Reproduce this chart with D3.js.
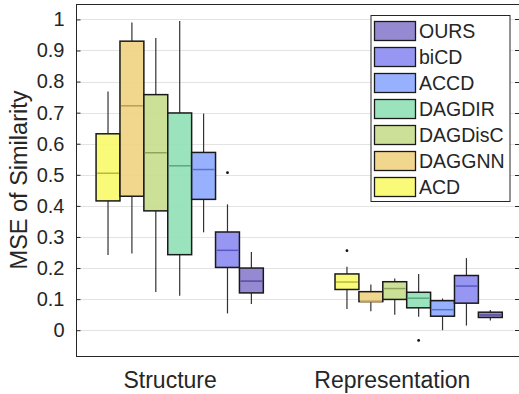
<!DOCTYPE html>
<html>
<head>
<meta charset="utf-8">
<script src="https://cdn.jsdelivr.net/npm/d3@7"></script>
<style>
  body { margin: 0; background: #fff; }
  text { font-family: "Liberation Sans", Arial, sans-serif; fill: #262626; }
</style>
</head>
<body>
<div id="main"></div>
<script>
// categories and methods
var categories = ["Structure", "Representation"];
var methods = ["ACD", "DAGGNN", "DAGDisC", "DAGDIR", "ACCD", "biCD", "OURS"];
var fills = ["#fafa6a", "#f0d282", "#c8dd8c", "#90e0b5", "#8ca8ff", "#8c8cf2", "#8a7ccc"];
var medianColors = ["#b8b840", "#c09c50", "#8fa65a", "#5aa882", "#5a74cc", "#5858c0", "#5a4aa0"];

// Structure stats (per method)
var structLow = [0.242, 0.247, 0.123, 0.111, 0.315, 0.054, 0.084];
var structQ1 = [0.416, 0.431, 0.384, 0.243, 0.421, 0.202, 0.120];
var structMed = [0.505, 0.722, 0.571, 0.529, 0.517, 0.257, 0.158];
var structQ3 = [0.632, 0.930, 0.758, 0.699, 0.572, 0.316, 0.200];
var structHigh = [0.768, 0.990, 0.940, 0.995, 0.697, 0.405, 0.252];
var structOut = [[], [], [], [], [], [0.507], []];

// Representation stats (per method)
var reprLow = [0.068, 0.061, 0.050, 0.043, 0.000, 0.015, 0.031];
var reprQ1 = [0.131, 0.092, 0.099, 0.072, 0.045, 0.087, 0.041];
var reprMed = [0.155, 0.092, 0.134, 0.103, 0.066, 0.142, 0.049];
var reprQ3 = [0.181, 0.124, 0.156, 0.122, 0.095, 0.176, 0.058];
var reprHigh = [0.204, 0.147, 0.166, 0.181, 0.102, 0.232, 0.065];
var reprOut = [[0.256], [], [], [-0.033], [], [], []];

var yTicks = [0, 0.1, 0.2, 0.3, 0.4, 0.5, 0.6, 0.7, 0.8, 0.9, 1];

var W = 519, H = 394;
var plot = {left: 76, right: 519, top: 4.5, bottom: 356};

var svg = d3.select("#main")
  .append("svg")
    .attr("width", W)
    .attr("height", H);

var y = d3.scaleLinear()
  .domain([-0.083, 1.048])
  .range([plot.bottom, plot.top]);

// x in box-slot units; second group starts at slot 10
var x = d3.scaleLinear()
  .domain([-0.84, 17.7])
  .range([plot.left, plot.right]);
var bw = x(1) - x(0);

// grid
svg.append("g")
  .selectAll("line")
  .data(yTicks)
  .enter()
  .append("line")
    .attr("x1", plot.left).attr("x2", plot.right)
    .attr("y1", function(d) { return Math.round(y(d)) + 0.5; })
    .attr("y2", function(d) { return Math.round(y(d)) + 0.5; })
    .attr("stroke", "#e3e3e3")
    .attr("stroke-width", 1);

// build box data
var groups = [
  {low: structLow, q1: structQ1, med: structMed, q3: structQ3, high: structHigh, out: structOut},
  {low: reprLow, q1: reprQ1, med: reprMed, q3: reprQ3, high: reprHigh, out: reprOut}
];
var boxes = [];
groups.forEach(function(g, gi) {
  methods.forEach(function(m, mi) {
    boxes.push({
      slot: gi * 10 + mi, mi: mi,
      low: g.low[mi], q1: g.q1[mi], med: g.med[mi], q3: g.q3[mi], high: g.high[mi],
      out: g.out[mi]
    });
  });
});

var bx = svg.append("g")
  .selectAll("g")
  .data(boxes)
  .enter()
  .append("g");

// whiskers
bx.append("line")
  .attr("x1", function(d) { return x(d.slot + 0.5); })
  .attr("x2", function(d) { return x(d.slot + 0.5); })
  .attr("y1", function(d) { return y(d.high); })
  .attr("y2", function(d) { return y(d.q3); })
  .attr("stroke", "#333").attr("stroke-width", 1.2);
bx.append("line")
  .attr("x1", function(d) { return x(d.slot + 0.5); })
  .attr("x2", function(d) { return x(d.slot + 0.5); })
  .attr("y1", function(d) { return y(d.q1); })
  .attr("y2", function(d) { return y(d.low); })
  .attr("stroke", "#333").attr("stroke-width", 1.2);

// boxes
bx.append("rect")
  .attr("x", function(d) { return x(d.slot); })
  .attr("width", bw)
  .attr("y", function(d) { return y(d.q3); })
  .attr("height", function(d) { return y(d.q1) - y(d.q3); })
  .attr("fill", function(d) { return fills[d.mi]; })
  .attr("fill-opacity", 0.9)
  .attr("stroke", "#1a1a1a")
  .attr("stroke-width", 1.5);

// medians
bx.append("line")
  .attr("x1", function(d) { return x(d.slot) + 1; })
  .attr("x2", function(d) { return x(d.slot + 1) - 1; })
  .attr("y1", function(d) { return y(d.med); })
  .attr("y2", function(d) { return y(d.med); })
  .attr("stroke", function(d) { return medianColors[d.mi]; })
  .attr("stroke-width", 1.5);

// outliers
bx.selectAll("circle")
  .data(function(d) { return d.out.map(function(v) { return {slot: d.slot, v: v}; }); })
  .enter()
  .append("circle")
    .attr("cx", function(d) { return x(d.slot + 0.5); })
    .attr("cy", function(d) { return y(d.v); })
    .attr("r", 1.4)
    .attr("fill", "#111");

// axes frame
var frame = svg.append("g").attr("fill", "none").attr("stroke", "#262626").attr("stroke-width", 1);
frame.append("line").attr("x1", plot.left + 0.5).attr("x2", plot.left + 0.5).attr("y1", plot.top).attr("y2", plot.bottom);
frame.append("line").attr("x1", plot.left).attr("x2", plot.right).attr("y1", plot.top).attr("y2", plot.top);
frame.append("line").attr("x1", plot.left).attr("x2", plot.right).attr("y1", plot.bottom + 0.5).attr("y2", plot.bottom + 0.5);

// left axis (inward ticks)
var yAxis = d3.axisLeft(y).tickValues(yTicks).tickSize(-4).tickPadding(12)
  .tickFormat(function(d) { return d3.format("")(+d.toFixed(1)); });
var ya = svg.append("g")
  .attr("transform", "translate(" + (plot.left + 0.5) + ",0)")
  .call(yAxis);
ya.select(".domain").remove();
ya.selectAll(".tick line").attr("stroke", "#262626");
ya.selectAll(".tick text")
  .attr("font-size", 20)
  .attr("font-family", "Liberation Sans, Arial, sans-serif")
  .attr("fill", "#262626");

// right ticks
svg.append("g")
  .selectAll("line")
  .data(yTicks)
  .enter()
  .append("line")
    .attr("x1", plot.right - 4).attr("x2", plot.right)
    .attr("y1", function(d) { return Math.round(y(d)) + 0.5; })
    .attr("y2", function(d) { return Math.round(y(d)) + 0.5; })
    .attr("stroke", "#262626");

// category labels
var labelPos = [3.1, 12.4];
svg.append("g")
  .selectAll("text")
  .data(categories)
  .enter()
  .append("text")
    .attr("x", function(d, i) { return x(labelPos[i]); })
    .attr("y", 388)
    .attr("text-anchor", "middle")
    .attr("font-size", 23)
    .text(function(d) { return d; });

// y label
svg.append("text")
  .attr("transform", "translate(27,180) rotate(-90)")
  .attr("text-anchor", "middle")
  .attr("font-size", 23.5)
  .text("MSE of Similarity");

// legend
var legendOrder = methods.slice().reverse();
var lg = svg.append("g").attr("transform", "translate(371,15.5)");
lg.append("rect")
  .attr("width", 139).attr("height", 186)
  .attr("fill", "#fff")
  .attr("stroke", "#262626").attr("stroke-width", 1);
var li = lg.selectAll(".item")
  .data(legendOrder)
  .enter()
  .append("g")
    .attr("class", "item")
    .attr("transform", function(d, i) { return "translate(3.5," + (6 + i * 26) + ")"; });
li.append("rect")
  .attr("width", 41).attr("height", 19)
  .attr("fill", function(d) { return fills[methods.indexOf(d)]; })
  .attr("fill-opacity", 0.9)
  .attr("stroke", "#1a1a1a").attr("stroke-width", 1.3);
li.append("text")
  .attr("x", 44.5)
  .attr("y", 16.5)
  .attr("font-size", 19.5)
  .text(function(d) { return d; });
</script>
</body>
</html>
